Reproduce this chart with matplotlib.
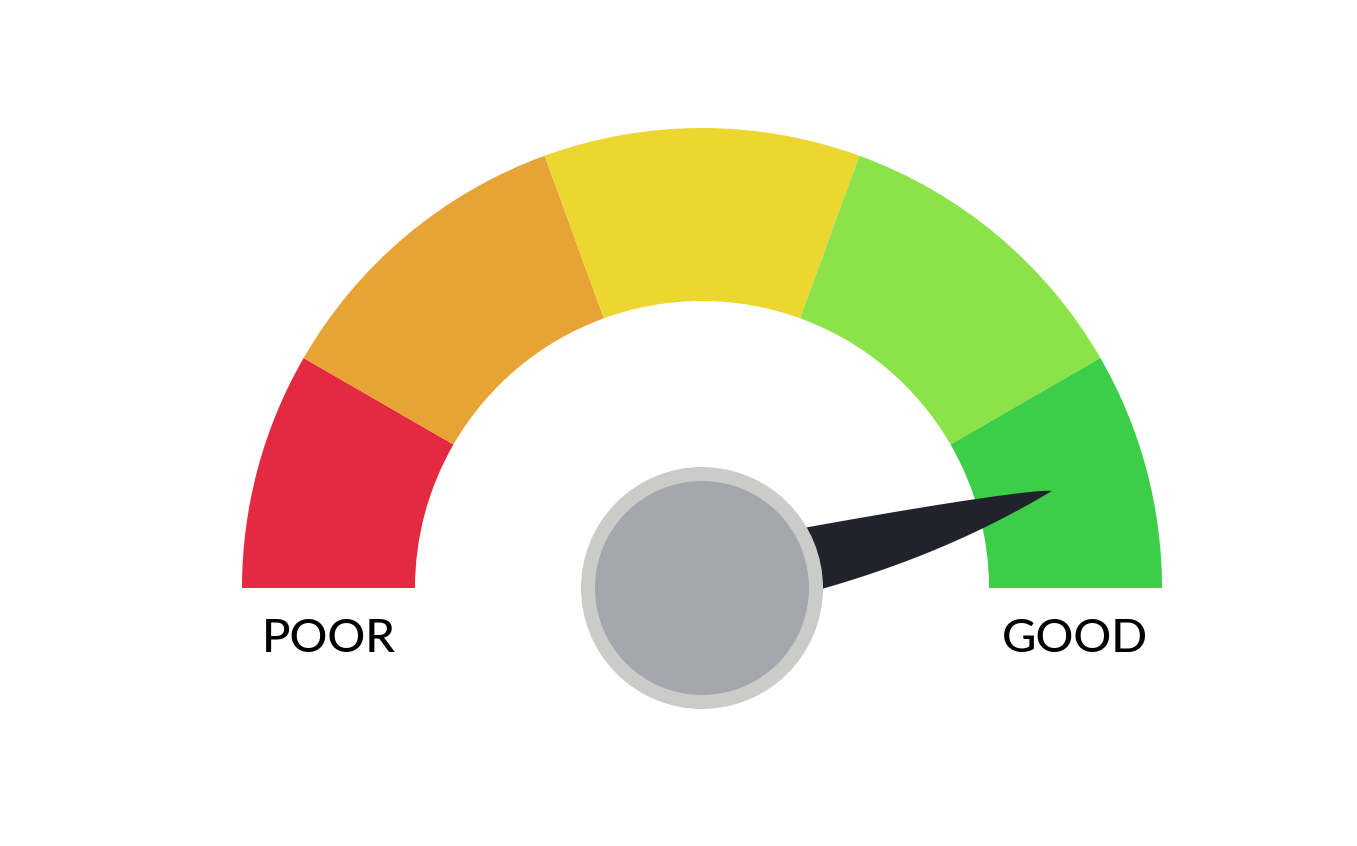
import numpy as np
import matplotlib
matplotlib.use("Agg")
import matplotlib.pyplot as plt
from matplotlib.patches import Wedge, Circle, Polygon

# --- dane wskaznika ---
granice_katow = [180, 150, 110, 70, 30, 0]   # granice segmentow (stopnie)
kolory = ["#e32a40", "#e8a335", "#ecd630", "#8be249", "#3cce47"]
etykiety = ["POOR", "GOOD"]
wartosc_wskazowki = 15.5   # kat wskazowki (stopnie)

# geometria w pikselach wzgledem srodka
R_ZEW = 460
R_WEW = 287
R_PIASTY = 121
R_PIASTY_WEW = 107
DL_WSKAZOWKI = 363

fig = plt.figure(figsize=(13.57, 8.46), dpi=100)
ax = fig.add_axes([0, 0, 1, 1])
ax.set_xlim(-702, 655)
ax.set_ylim(-258, 588)
ax.set_aspect("equal")
ax.axis("off")

# segmenty luku
for i, kolor in enumerate(kolory):
    a1, a0 = granice_katow[i], granice_katow[i + 1]
    ax.add_patch(Wedge((0, 0), R_ZEW, a0, a1, width=R_ZEW - R_WEW,
                       facecolor=kolor, edgecolor="none"))

# wskazowka - ksztalt ostrza
u0 = 100
t = np.linspace(0, 1, 80)
u = u0 + t * (DL_WSKAZOWKI - u0)
v_gora = 32 * (1 - t) ** 0.75
v_dol = -33 * (1 - t ** 2.2)
uu = np.concatenate([u, u[::-1]])
vv = np.concatenate([v_gora, v_dol[::-1]])
kat = np.deg2rad(wartosc_wskazowki)
xs = uu * np.cos(kat) - vv * np.sin(kat)
ys = uu * np.sin(kat) + vv * np.cos(kat)
ax.add_patch(Polygon(np.column_stack([xs, ys]), closed=True,
                     facecolor="#20232c", edgecolor="none"))

# piasta
ax.add_patch(Circle((0, 0), R_PIASTY, facecolor="#cbcbca", edgecolor="none"))
ax.add_patch(Circle((0, 0), R_PIASTY_WEW, facecolor="#a5a7af", edgecolor="none"))

# podpisy
ax.text(-373, -51, etykiety[0], ha="center", va="center", fontsize=34,
        family="Lato", fontweight=500, color="black")
ax.text(373, -51, etykiety[1], ha="center", va="center", fontsize=34,
        family="Lato", fontweight=500, color="black")

fig.savefig("out.png", dpi=100, facecolor="white")
